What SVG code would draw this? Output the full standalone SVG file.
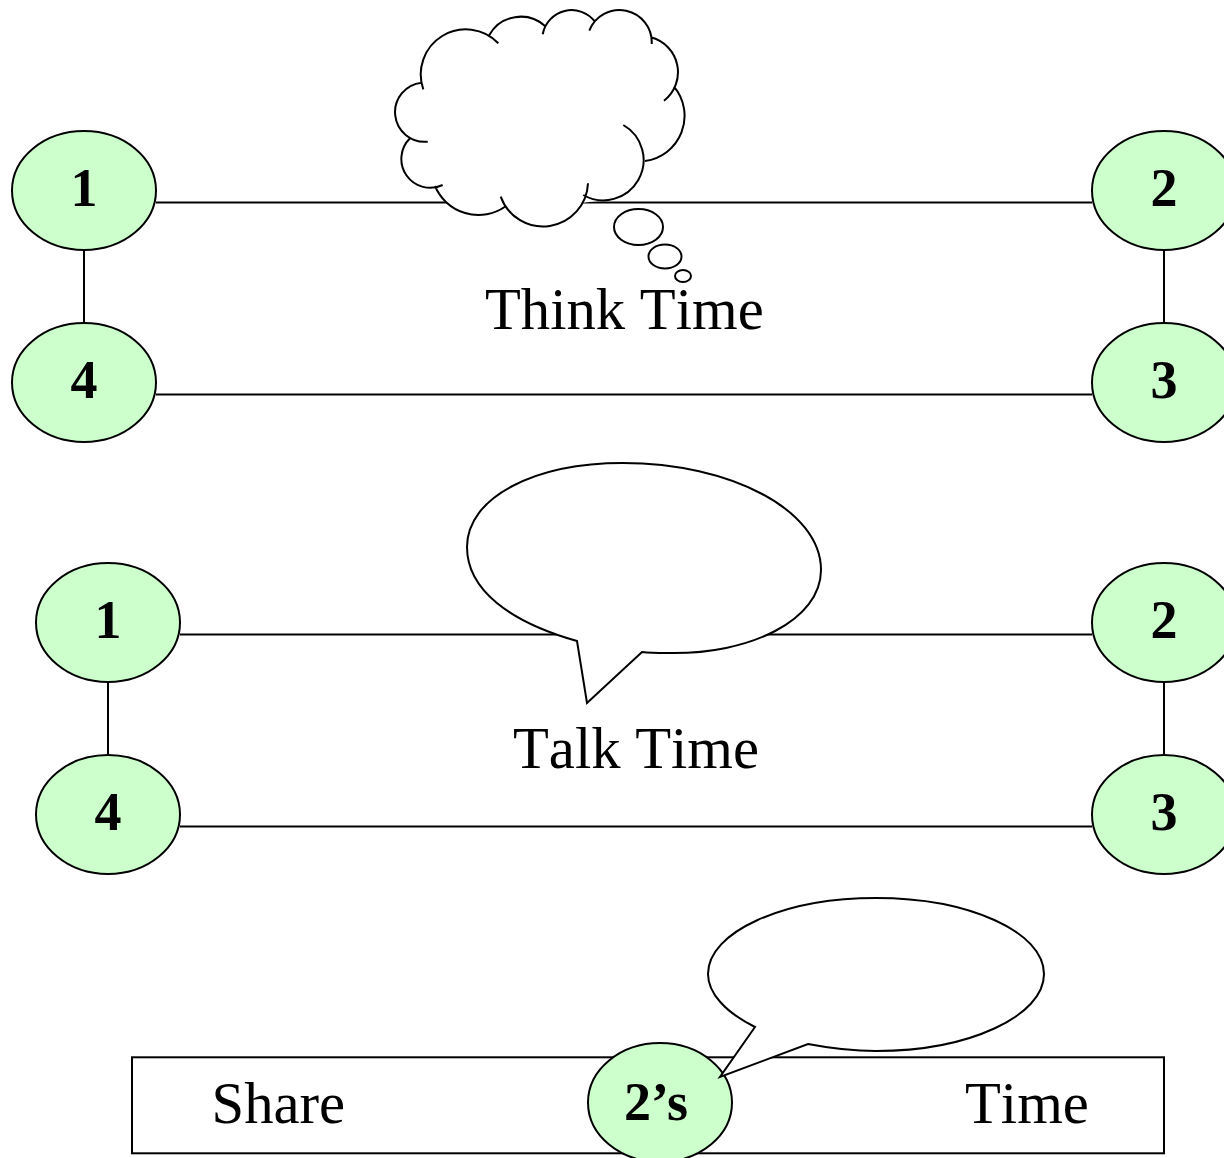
<svg xmlns="http://www.w3.org/2000/svg" width="1224" height="1158" viewBox="0 0 1224 1158">
<style>
.l{stroke:#000;stroke-width:2;fill:none}
.n{fill:#ccffcc;stroke:#000;stroke-width:2}
.b{fill:#fff;stroke:#000;stroke-width:2;stroke-linejoin:miter}
.d{font:bold 54px "Liberation Serif","Times New Roman",serif;text-anchor:middle;fill:#000}
.t{font:58.7px "Liberation Serif","Times New Roman",serif;fill:#000;font-kerning:none}
</style>
<rect width="1224" height="1158" fill="#fff"/>
<g id="connectors">
<path class="l" d="M156 202.4H1092M156 394.4H1092M84 250V322M1164 250V322M180 634.4H1092M180 826.4H1092M108 682V754M1164 682V754"/>
<rect class="l" x="132" y="1057.3" width="1032" height="96"/>
</g>
<g id="thought-cloud">
<polygon fill="#fff" points="423,89 489,35 543,34 595,22 651,44 674,86 645,161 606,200 505,212 434,186 410,139"/>
<path class="b" d="M423.3 89.3A45 45 0 0 1 498.3 43.3M489.3 35A36.2 36.2 0 0 1 545 26M542.7 34.3A29.4 29.4 0 0 1 595 21.7M589.3 30.7A32.3 32.3 0 0 1 651.7 44M650.7 37.3A36 36 0 0 1 664 100.7M674 86.7A45.5 45.5 0 0 1 645 161M623.3 125A40 40 0 0 1 583.3 195M588 183.3A45 45 0 0 1 500.7 196.7M505 206.7A47 47 0 0 1 435 186M442.7 185A28.9 28.9 0 0 1 410 138.3M427.7 141.7A29 29 0 0 1 421.7 82.7"/>
<ellipse class="b" cx="638.5" cy="227" rx="24.5" ry="18"/>
<ellipse class="b" cx="665" cy="256.5" rx="16.5" ry="12"/>
<ellipse class="b" cx="683" cy="276" rx="8" ry="6"/>
</g>
<g id="n1a"><ellipse class="n" cx="84" cy="190.5" rx="72" ry="59.5"/><text class="d" x="84" y="206">1</text></g>
<g id="n2a"><ellipse class="n" cx="1164" cy="190.5" rx="72" ry="59.5"/><text class="d" x="1164" y="206">2</text></g>
<g id="n3a"><ellipse class="n" cx="1164" cy="382.5" rx="72" ry="59.5"/><text class="d" x="1164" y="398">3</text></g>
<g id="n4a"><ellipse class="n" cx="84" cy="382.5" rx="72" ry="59.5"/><text class="d" x="84" y="398">4</text></g>
<text class="t" x="485" y="329">Think Time</text>
<g id="speech-1"><path class="b" d="M577 641C510 622 467 590 467 547C467 497 535 463 623 463C730 463 821 510 821 570C821 620 750 655 667 653C660 653 650 653 642 652L587 703Z"/></g>
<g id="n1b"><ellipse class="n" cx="108" cy="622.5" rx="72" ry="59.5"/><text class="d" x="108" y="638">1</text></g>
<g id="n2b"><ellipse class="n" cx="1164" cy="622.5" rx="72" ry="59.5"/><text class="d" x="1164" y="638">2</text></g>
<g id="n3b"><ellipse class="n" cx="1164" cy="814.5" rx="72" ry="59.5"/><text class="d" x="1164" y="830">3</text></g>
<g id="n4b"><ellipse class="n" cx="108" cy="814.5" rx="72" ry="59.5"/><text class="d" x="108" y="830">4</text></g>
<text class="t" x="513" y="768">Talk Time</text>
<text class="t" x="211.5" y="1123">Share</text>
<text class="t" x="965" y="1123">Time</text>
<g id="n2s"><ellipse class="n" cx="660" cy="1102.5" rx="72" ry="59.5"/><text class="d" x="656" y="1120">2’s</text></g>
<g id="speech-2"><path class="b" d="M755 1027C725 1012 708 993 708 974C708 932 783 898 876 898C969 898 1044 932 1044 974C1044 1016 969 1051 876 1051C852 1051 829 1048 808 1044L720 1077Z"/></g>
</svg>
